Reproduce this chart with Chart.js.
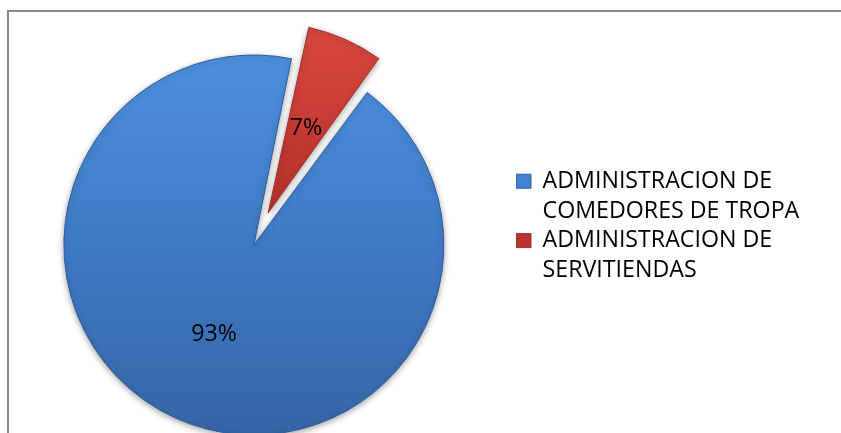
<!DOCTYPE html>
<html>
<head>
<meta charset="utf-8">
<script src="https://cdn.jsdelivr.net/npm/chart.js@4/dist/chart.umd.min.js"></script>
<style>
  html, body { margin: 0; padding: 0; background: #fff; overflow: hidden; }
  canvas { display: block; }
</style>
</head>
<body>
<canvas id="pieChart" width="841" height="433"></canvas>
<script>
const categories = [
  ['ADMINISTRACION DE', 'COMEDORES DE TROPA'],
  ['ADMINISTRACION DE', 'SERVITIENDAS']
];
const percentages = [93, 7];
const explodePx = [0, 35];
const labelDistance = [0.516, 0.49];
const gradientStops = [
  ['#4d8fde', '#3f7ac6', '#3565a6'],
  ['#dc4c43', '#cf4038', '#b9342e']
];
const gradientRange = [[55, 435], [22, 215]];

const PIE_RADIUS = 190;
const FONT = '"Open Sans", Lato, sans-serif';

// pick a font size so the legend text is as wide as in the picture
const measureCtx = document.createElement('canvas').getContext('2d');
measureCtx.font = '20px ' + FONT;
const fontSize = Math.round(20 * 230 / measureCtx.measureText('ADMINISTRACION DE').width * 10) / 10;

function sliceFill(context) {
  const i = context.dataIndex;
  const c = context.chart.ctx;
  const [y0, y1] = gradientRange[i];
  const g = c.createLinearGradient(0, y0, 0, y1);
  g.addColorStop(0, gradientStops[i][0]);
  g.addColorStop(0.5, gradientStops[i][1]);
  g.addColorStop(1, gradientStops[i][2]);
  return g;
}

// grey frame (left and top edges visible)
const framePlugin = {
  id: 'frame',
  beforeDraw(chart) {
    const ctx = chart.ctx;
    ctx.save();
    ctx.strokeStyle = '#888888';
    ctx.lineWidth = 2;
    ctx.beginPath();
    ctx.moveTo(8, 500);
    ctx.lineTo(8, 11);
    ctx.lineTo(900, 11);
    ctx.stroke();
    ctx.restore();
  }
};

// soft shadow under the slices
const shadowPlugin = {
  id: 'sliceShadow',
  beforeDatasetsDraw(chart) {
    const ctx = chart.ctx;
    ctx.save();
    ctx.shadowColor = 'rgba(0,0,0,0.35)';
    ctx.shadowBlur = 6;
    ctx.shadowOffsetY = 2;
  },
  afterDatasetsDraw(chart) {
    chart.ctx.restore();
  }
};

// Chart.js moves an offset slice by offset/4 and grows its radius;
// keep the exploded slice the same size as the other one
const keepRadius = {
  id: 'keepRadius',
  afterDatasetsUpdate(chart) {
    chart.getDatasetMeta(0).data.forEach((arc, i) => {
      const move = explodePx[i];
      const circ = arc.endAngle - arc.startAngle;
      const fix = 1 - Math.sin(Math.min(Math.PI, circ));
      arc.outerRadius = PIE_RADIUS - move * fix;
    });
  }
};

// percentage labels inside the slices
const percentLabels = {
  id: 'percentLabels',
  afterDatasetsDraw(chart) {
    const ctx = chart.ctx;
    const meta = chart.getDatasetMeta(0);
    ctx.save();
    ctx.fillStyle = '#000';
    ctx.font = fontSize + 'px ' + FONT;
    ctx.textAlign = 'center';
    ctx.textBaseline = 'middle';
    meta.data.forEach((arc, i) => {
      const mid = (arc.startAngle + arc.endAngle) / 2;
      const d = explodePx[i] + labelDistance[i] * PIE_RADIUS;
      ctx.fillText(percentages[i] + '%', arc.x + Math.cos(mid) * d, arc.y + Math.sin(mid) * d);
    });
    ctx.restore();
  }
};

// legend sits a little above the pie centre, at x = 516
const legendPlace = {
  id: 'legendPlace',
  afterLayout(chart) {
    const lg = chart.legend;
    if (!lg) return;
    const w = lg.right - lg.left;
    lg.left = 516;
    lg.right = lg.left + w;
    lg.top -= 16;
    lg.bottom -= 16;
  }
};

const ctx = document.getElementById('pieChart').getContext('2d');
new Chart(ctx, {
  type: 'pie',
  data: {
    labels: categories,
    datasets: [{
      data: percentages,
      backgroundColor: sliceFill,
      borderColor: ['#2f5d99', '#a52f29'],
      borderWidth: 1,
      offset: explodePx.map(v => v * 4),
      hoverOffset: 0
    }]
  },
  options: {
    responsive: false,
    animation: false,
    rotation: 36.6,
    radius: PIE_RADIUS,
    layout: { padding: { left: -61, top: 57, right: 40, bottom: 0 } },
    plugins: {
      legend: {
        position: 'right',
        align: 'center',
        labels: {
          boxWidth: 15,
          boxHeight: 14,
          padding: 0,
          color: '#000',
          font: { family: FONT, size: fontSize, lineHeight: 1.28 }
        }
      },
      tooltip: { enabled: false }
    }
  },
  plugins: [framePlugin, shadowPlugin, keepRadius, percentLabels, legendPlace]
});
</script>
</body>
</html>
